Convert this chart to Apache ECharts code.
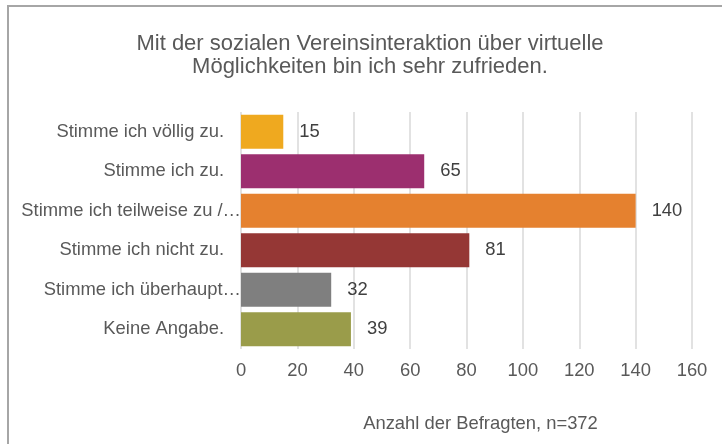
<!DOCTYPE html>
<html>
<head>
<meta charset="utf-8">
<script src="https://cdn.jsdelivr.net/npm/echarts@6/dist/echarts.min.js"></script>
<style>
  html, body { margin: 0; padding: 0; background: #fff; }
  #chart { width: 722px; height: 444px; }
</style>
</head>
<body>
<div id="chart"></div>
<script>
const categories = [
  'Stimme ich völlig zu.',
  'Stimme ich zu.',
  'Stimme ich teilweise zu /…',
  'Stimme ich nicht zu.',
  'Stimme ich überhaupt…',
  'Keine Angabe.'
]
const counts = [15, 65, 140, 81, 32, 39]
const barColors = ['#EFA91F', '#9C2F6F', '#E5812F', '#953735', '#7F7F7F', '#9A9C4A']
const xTicks = [0, 20, 40, 60, 80, 100, 120, 140, 160]

const titleText = 'Mit der sozialen Vereinsinteraktion über virtuelle\nMöglichkeiten bin ich sehr zufrieden.'
const axisTitle = 'Anzahl der Befragten, n=372'

const font = '"Liberation Sans", Arial, sans-serif'

const chart = echarts.init(document.getElementById('chart'))
chart.setOption({
  animation: false,
  textStyle: { fontFamily: font },
  title: {
    text: titleText,
    left: 370,
    top: 32,
    padding: 0,
    textAlign: 'center',
    textStyle: {
      fontFamily: font,
      fontSize: 22,
      fontWeight: 'normal',
      color: '#595959',
      lineHeight: 23
    }
  },
  graphic: [{
    type: 'rect',
    shape: { x: 8, y: 6, width: 740, height: 460 },
    style: { fill: 'none', stroke: '#a6a6a6', lineWidth: 2 },
    silent: true
  }],
  grid: {
    left: 241,
    right: 30,
    top: 112,
    bottom: 95,
    containLabel: false
  },
  xAxis: {
    type: 'value',
    min: xTicks[0],
    max: xTicks[xTicks.length - 1],
    interval: xTicks[1] - xTicks[0],
    name: axisTitle,
    nameLocation: 'middle',
    nameGap: 66,
    nameTextStyle: {
      fontSize: 18.4,
      color: '#595959',
      padding: [0, 0, 0, 28]
    },
    axisLine: { show: false },
    axisTick: { show: false },
    axisLabel: {
      margin: 13,
      fontSize: 18.4,
      color: '#595959'
    },
    splitLine: {
      show: true,
      lineStyle: { color: '#d9d9d9', width: 1.5 }
    }
  },
  yAxis: {
    type: 'category',
    inverse: true,
    data: categories,
    axisLine: { show: false },
    axisTick: { show: false },
    axisLabel: {
      margin: 0,
      fontSize: 18.4,
      color: '#595959',
      formatter: function (v) {
        return v.endsWith('…') ? '{t|' + v + '}' : '{n|' + v + '}'
      },
      rich: {
        n: { fontSize: 18.4, color: '#595959', padding: [0, 17, 0, 0] },
        t: { fontSize: 18.4, color: '#595959' }
      }
    }
  },
  series: [{
    type: 'bar',
    data: counts,
    barCategoryGap: '14%',
    itemStyle: {
      color: function (p) { return barColors[p.dataIndex] }
    },
    label: {
      show: true,
      position: 'right',
      distance: 16,
      fontSize: 18.4,
      color: '#404040'
    }
  }]
})
</script>
</body>
</html>
